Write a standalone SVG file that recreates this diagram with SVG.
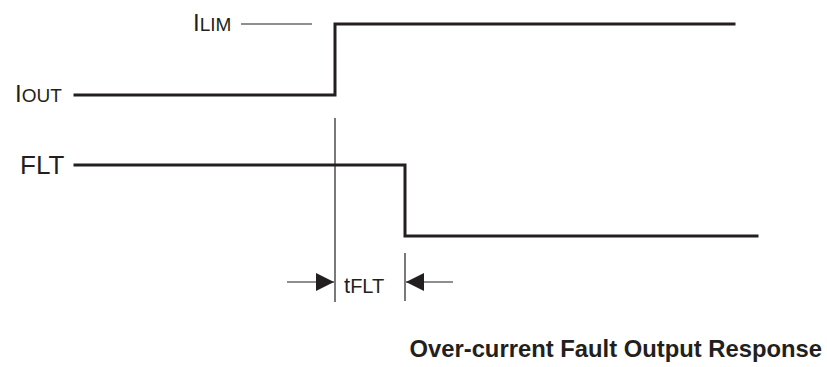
<svg xmlns="http://www.w3.org/2000/svg" width="827" height="367" viewBox="0 0 827 367">
<style>
.sig{fill:none;stroke:#231f20;stroke-width:3;stroke-linecap:square;stroke-linejoin:miter}
.thin{fill:none;stroke:#231f20;stroke-width:1.2}
.lbl{font-family:"Liberation Sans",Arial,sans-serif;fill:#231f20}
.title{font-family:"Liberation Sans",Arial,sans-serif;font-weight:bold;fill:#231f20;font-size:23.8px}
</style>
<defs>
<marker id="ah" viewBox="0 0 18 18" refX="18" refY="9" markerWidth="18" markerHeight="18" markerUnits="userSpaceOnUse" orient="auto">
<path d="M0,0 L18,9 L0,18 Z" fill="#231f20"/>
</marker>
</defs>
<g id="labels">
<g id="ilim"><text class="lbl" x="193" y="31"><tspan font-size="24">I</tspan><tspan font-size="19">LIM</tspan></text></g>
<g id="iout"><text class="lbl" x="15" y="102"><tspan font-size="24">I</tspan><tspan font-size="19">OUT</tspan></text></g>
<g id="flt"><text class="lbl" x="20" y="174" font-size="26">FLT</text></g>
<g id="tflt"><text class="lbl" x="344" y="293"><tspan font-size="22">t</tspan><tspan font-size="20">FLT</tspan></text></g>
<g id="title"><text class="title" x="822" y="357" text-anchor="end">Over-current Fault Output Response</text></g>
</g>
<g id="connectors">
<path id="iout-wave" class="sig" d="M75,95 H335 V24 H734"/>
<path id="flt-wave" class="sig" d="M75,165 H405 V236 H757"/>
<line class="thin" x1="241" y1="24" x2="312" y2="24"/>
<line class="thin" x1="335" y1="118" x2="335" y2="302"/>
<line class="thin" x1="405" y1="253" x2="405" y2="301"/>
<line class="thin" x1="287" y1="282" x2="334" y2="282" marker-end="url(#ah)"/>
<line class="thin" x1="453" y1="282" x2="406" y2="282" marker-end="url(#ah)"/>
</g>
</svg>
